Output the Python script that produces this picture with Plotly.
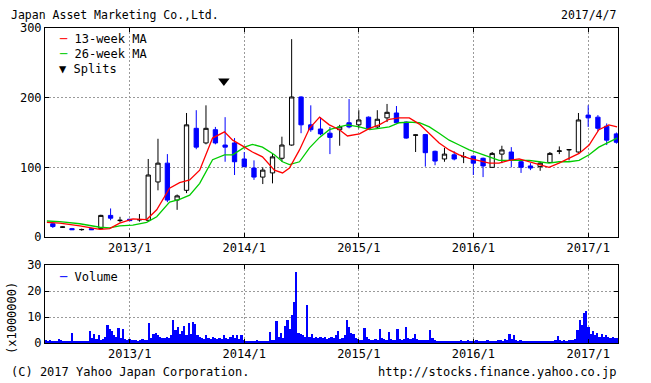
import plotly.graph_objects as go
import pandas as pd

# ---------------- data ----------------
months = ["2012-05-01", "2012-06-01", "2012-07-01", "2012-08-01", "2012-09-01", "2012-10-01",
          "2012-11-01", "2012-12-01",
          "2013-01-01", "2013-02-01", "2013-03-01", "2013-04-01", "2013-05-01", "2013-06-01",
          "2013-07-01", "2013-08-01", "2013-09-01", "2013-10-01", "2013-11-01", "2013-12-01",
          "2014-01-01", "2014-02-01", "2014-03-01", "2014-04-01", "2014-05-01", "2014-06-01",
          "2014-07-01", "2014-08-01", "2014-09-01", "2014-10-01", "2014-11-01", "2014-12-01",
          "2015-01-01", "2015-02-01", "2015-03-01", "2015-04-01", "2015-05-01", "2015-06-01",
          "2015-07-01", "2015-08-01", "2015-09-01", "2015-10-01", "2015-11-01", "2015-12-01",
          "2016-01-01", "2016-02-01", "2016-03-01", "2016-04-01", "2016-05-01", "2016-06-01",
          "2016-07-01", "2016-08-01", "2016-09-01", "2016-10-01", "2016-11-01", "2016-12-01",
          "2017-01-01", "2017-02-01", "2017-03-01", "2017-04-01"]

open_ = [19, 14, 12, 10.5, 12, 12, 31, 23.5,
         25.5, 24.5, 24, 79, 106, 53, 67, 156, 135, 154, 132, 135,
         112, 99, 86, 92, 113, 132, 201, 161, 155, 149, 154, 164,
         161, 172, 158, 171, 178, 165, 146, 147, 123, 112, 118, 115,
         116, 113, 100, 119, 122, 108, 102, 101, 107, 123, 125, 122,
         175, 172, 159, 148]
high = [21, 15, 13, 12, 13, 32, 41, 29,
        26, 33, 112, 141, 119, 61, 178, 182, 189, 158, 172, 142,
        122, 110, 100, 120, 144, 284, 202, 189, 172, 158, 161, 198,
        182, 173, 182, 191, 188, 166, 147, 148, 124, 128, 123, 122,
        117, 114, 122, 131, 129, 112, 106, 108, 122, 130, 126, 178,
        189, 175, 163, 150]
low = [13, 13, 10, 9, 10, 11, 24, 21,
       23, 22, 23, 67, 50, 39, 63, 126, 133, 133, 108, 89,
       100, 82, 76, 77, 108, 131, 149, 151, 146, 119, 131, 156,
       156, 155, 156, 165, 163, 141, 122, 101, 103, 108, 110, 106,
       89, 86, 99, 106, 100, 92, 96, 95, 106, 119, 110, 121,
       158, 152, 132, 134]
close = [15, 14.4, 10.5, 10.8, 10.5, 31, 27, 24,
         23.5, 25, 89, 106, 53, 59, 161, 129, 156, 135, 129, 108,
         101, 86, 96, 115, 132, 201, 161, 154, 148, 143, 158, 158,
         168, 156, 169, 179, 164, 142, 146.5, 121, 109, 119, 112, 115.5,
         106, 102, 120, 125, 110, 100, 99, 106, 120, 123.5, 125.5, 168,
         171, 156, 139, 136]

ma_dates = ["2012-04-12", "2012-05-23", "2012-07-26", "2012-09-28", "2012-10-29", "2012-11-30",
            "2013-01-11", "2013-02-24", "2013-03-28", "2013-04-16", "2013-05-08", "2013-06-09",
            "2013-07-11", "2013-08-12", "2013-09-03", "2013-09-22", "2013-10-30", "2013-11-25",
            "2014-01-02", "2014-01-27", "2014-02-28", "2014-04-07", "2014-05-03", "2014-05-25",
            "2014-06-26", "2014-07-28", "2014-08-29", "2014-09-29", "2014-10-31", "2014-11-26",
            "2015-01-03", "2015-02-04", "2015-03-07", "2015-04-08", "2015-05-10", "2015-06-11",
            "2015-07-13", "2015-08-14", "2015-09-14", "2015-10-16", "2015-11-17", "2015-12-19",
            "2016-01-20", "2016-02-21", "2016-03-23", "2016-04-24", "2016-05-26", "2016-06-27",
            "2016-07-29", "2016-08-29", "2016-09-30", "2016-11-01", "2016-12-03", "2017-01-04",
            "2017-02-04", "2017-03-08", "2017-04-03"]
ma13 = [21, 20, 16, 11, 12, 20, 26, 25, 39, 53, 70, 78,
        82, 96, 120, 142, 151, 139, 129, 122, 115, 96, 92, 99,
        125, 156, 172, 161, 154, 145, 148, 156, 161, 169, 171, 171,
        162, 149, 135, 125, 118, 113, 110, 106, 106, 110, 112, 108,
        103, 100, 106, 113, 120, 132, 154, 161, 158]
ma26 = [23, 22, 19, 14, 13, 16, 17, 21, 29, 39, 50, 54,
        60, 77, 96, 111, 118, 118, 129, 133, 129, 118, 108, 104,
        108, 128, 143, 154, 158, 161, 158, 154, 156, 158, 164, 165,
        164, 158, 149, 139, 132, 125, 120, 115, 110, 110, 110, 110,
        108, 106, 108, 108, 110, 118, 129, 136, 142]

split_dates = ["2013-10-28"]
split_marker_level = [224]

weekly_volume = [
    1.0, 0.8, 1.2, 0.6, 0.5, 0.7, 1.5, 1.0, 0.6, 0.5, 0.7, 0.6,
    3.8,
    0.6, 0.5, 0.5, 0.6, 0.5, 0.7, 0.9,
    4.8, 2.0, 3.5, 1.5, 3.0, 1.0, 1.5,
    2.5, 7.0, 5.5, 4.8, 3.0, 2.5, 5.8, 2.0, 5.5, 1.5, 1.0,
    1.5, 1.2, 1.0, 1.3, 0.8, 1.0, 1.5, 1.2, 1.0,
    7.8, 2.0, 3.5, 4.0, 3.0, 2.5, 2.0, 1.8, 2.5, 2.0, 3.0,
    8.7, 5.0, 6.0, 3.5, 4.5, 6.7, 3.0, 7.8, 3.5, 8.0, 7.4, 3.0,
    2.5, 2.0, 1.5, 3.0, 2.0, 1.5, 2.5, 1.8, 1.5, 2.0, 1.5, 3.0, 1.8, 1.5, 2.5, 3.0, 2.0, 3.2, 1.5, 3.0,
    1.0, 0.8, 0.6, 0.7, 0.5, 0.8, 1.0, 0.6, 0.7, 0.9, 0.6, 0.8,
    4.4, 1.0, 1.2, 8.3, 2.5, 4.0, 2.0, 6.7, 9.0, 5.5, 10.6, 15.8, 27.5, 4.0, 3.5, 3.0,
    2.5, 14.8, 2.5, 3.5, 2.0, 2.5, 2.0, 2.5, 1.8, 2.2, 1.5, 2.0, 2.5, 2.0, 3.0,
    4.8, 1.5, 2.0, 3.0, 8.7, 6.0, 4.0, 3.5, 2.0, 1.5, 1.0, 1.2, 5.7, 2.2, 1.5, 1.2, 1.0,
    1.5, 1.2, 5.5, 1.8, 1.5, 1.2, 4.2, 1.5, 1.2, 1.0, 5.2, 1.5, 1.2, 1.5, 6.1, 2.0, 1.5,
    1.8, 3.5, 1.5, 1.2, 1.0, 1.0, 1.2, 1.0, 5.0, 2.0, 1.0,
    0.6, 0.5, 0.4, 0.5, 0.6, 0.4, 0.5, 0.7, 0.6, 0.5, 0.8, 1.2, 0.7, 0.9, 1.0, 0.8, 0.7,
    0.9, 1.1, 0.8, 0.6, 0.9, 0.7, 1.0, 0.8, 0.7, 0.9, 0.8, 1.0, 1.2, 0.9, 1.5, 1.0,
    3.5, 1.5, 3.0, 1.2,
    0.8, 1.0, 0.7, 0.6, 0.8, 0.5, 0.6, 0.7, 0.5, 0.6, 0.8, 0.6, 0.7, 0.9, 0.6, 0.8, 0.7,
    1.0, 2.6, 1.2, 0.9, 1.0, 0.8, 1.0, 1.2, 1.0, 1.5,
    5.0, 8.7, 7.0, 11.4, 12.2, 6.0, 3.5, 4.5, 3.0, 4.0, 2.5, 3.5, 2.5, 3.0, 2.5, 2.0, 2.5, 2.0, 2.0,
]
volume_weeks = pd.date_range("2012-04-09", periods=len(weekly_volume), freq="7D")

year_ticks = ["2013-01-01", "2014-01-01", "2015-01-01", "2016-01-01", "2017-01-01"]
year_labels = ["2013/1", "2014/1", "2015/1", "2016/1", "2017/1"]
price_ticks = [0, 100, 200, 300]
volume_ticks = [0, 10, 20, 30]

# ---------------- figure ----------------
W, H = 651, 383
ML, MR, MT, MB = 45, 33, 28, 40
PW, PH = W - ML - MR, H - MT - MB


def px(x):
    return (x - ML) / PW


def py(y):
    return (H - MB - y) / PH


FONT = "DejaVu Sans Mono"
BLUE = "#0000ff"
RED = "#ff0000"
GREEN = "#00cc00"

fig = go.Figure()

fig.add_trace(go.Candlestick(
    x=months, open=open_, high=high, low=low, close=close,
    increasing=dict(line=dict(color="black", width=1), fillcolor="white"),
    decreasing=dict(line=dict(color=BLUE, width=1), fillcolor=BLUE),
    whiskerwidth=0, xaxis="x", yaxis="y", hoverinfo="skip",
))
fig.add_trace(go.Scatter(x=ma_dates, y=ma26, mode="lines",
                         line=dict(color=GREEN, width=1.3), xaxis="x", yaxis="y"))
fig.add_trace(go.Scatter(x=ma_dates, y=ma13, mode="lines",
                         line=dict(color=RED, width=1.3), xaxis="x", yaxis="y"))
fig.add_trace(go.Scatter(x=split_dates, y=split_marker_level, mode="markers",
                         marker=dict(symbol="triangle-down", size=10, color="black"),
                         xaxis="x", yaxis="y"))
fig.add_trace(go.Bar(x=volume_weeks, y=weekly_volume, width=7 * 24 * 3600 * 1000,
                     marker=dict(color=BLUE, line=dict(width=0)),
                     xaxis="x2", yaxis="y2"))

x_range = ["2012-04-06", "2017-04-06"]
axis_common = dict(
    showline=True, linecolor="black", linewidth=1, mirror="ticks",
    ticks="inside", ticklen=4, tickcolor="black",
    showgrid=True, gridcolor="#9a9a9a", griddash="2px,2px", gridwidth=1,
    zeroline=False, tickfont=dict(family=FONT, size=12, color="black"),
)
price_bottom = py(237)
vol_top = py(265)

fig.update_layout(
    width=W, height=H,
    margin=dict(l=ML, r=MR, t=MT, b=MB),
    paper_bgcolor="white", plot_bgcolor="white",
    showlegend=False,
    font=dict(family=FONT, size=12, color="black"),
    xaxis=dict(domain=[0, 1], anchor="y", type="date", range=x_range,
               tickmode="array", tickvals=year_ticks, ticktext=year_labels,
               rangeslider=dict(visible=False), **axis_common),
    yaxis=dict(domain=[price_bottom, 1], anchor="x", range=[0, 300],
               tickmode="array", tickvals=price_ticks, **axis_common),
    xaxis2=dict(domain=[0, 1], anchor="y2", type="date", range=x_range,
                tickmode="array", tickvals=year_ticks, ticktext=year_labels, **axis_common),
    yaxis2=dict(domain=[0, vol_top], anchor="x2", range=[0, 30],
                tickmode="array", tickvals=volume_ticks, **axis_common),
    bargap=0,
)

ann = []


def text(x, y, s, xanchor="left", color="black", size=12, angle=0):
    ann.append(dict(x=px(x), y=py(y), xref="paper", yref="paper", text=s,
                    showarrow=False, xanchor=xanchor, yanchor="middle",
                    textangle=angle,
                    font=dict(family=FONT, size=size, color=color)))


text(9, 15, "Japan Asset Marketing Co.,Ltd.", size=11.5)
text(618, 15, "2017/4/7", xanchor="right", size=11.5)
text(57, 39, f"<span style='color:{RED}'>─</span> 13-week MA")
text(57, 54, f"<span style='color:{GREEN}'>─</span> 26-week MA")
text(57, 69, "▼ Splits")
text(57, 277, f"<span style='color:{BLUE}'>─</span> Volume")
text(12, 318, "(x1000000)", xanchor="center", angle=-90)
text(9, 372, "(C) 2017 Yahoo Japan Corporation.")
text(618, 372, "http://stocks.finance.yahoo.co.jp", xanchor="right")

fig.update_layout(annotations=ann)

fig.write_html("out.html", config={"displayModeBar": False},
               post_script="document.body.style.margin='0px';")
